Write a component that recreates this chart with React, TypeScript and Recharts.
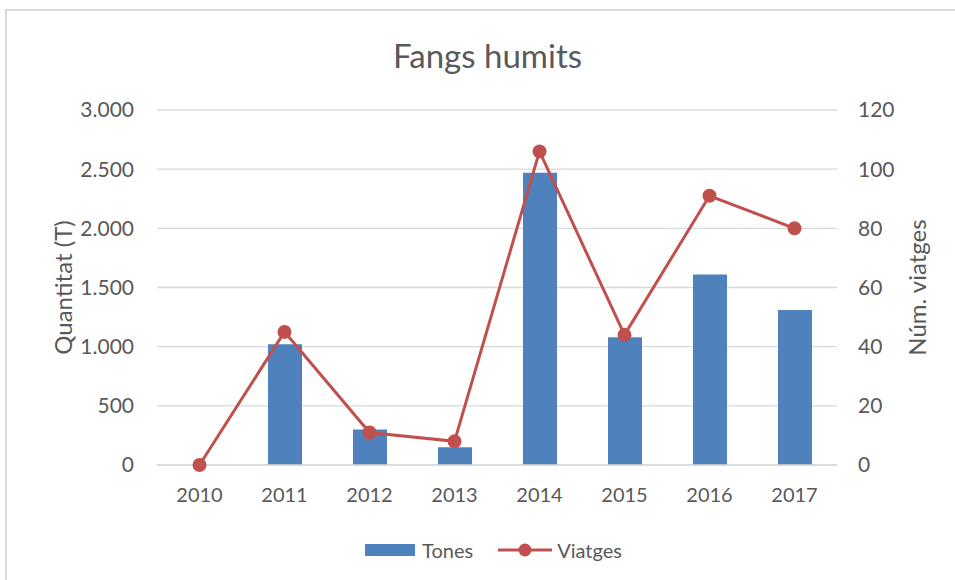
import React from 'react';
import {
  ComposedChart,
  Bar,
  Line,
  XAxis,
  YAxis,
  CartesianGrid,
  Legend,
} from 'recharts';

const years = ['2010', '2011', '2012', '2013', '2014', '2015', '2016', '2017'];
const tones = [0, 1020, 300, 150, 2470, 1080, 1610, 1310];
const viatges = [0, 45, 11, 8, 106, 44, 91, 80];
const leftTicks = [0, 500, 1000, 1500, 2000, 2500, 3000];
const rightTicks = [0, 20, 40, 60, 80, 100, 120];

const chartTitle = 'Fangs humits';
const leftTitle = 'Quantitat (T)';
const rightTitle = 'Núm. viatges';

const data = years.map((y, i) => ({ year: y, Tones: tones[i], Viatges: viatges[i] }));

const BLUE = '#4F81BD';
const RED = '#C0504D';
const TEXT = '#595959';
const GRID = '#D9D9D9';
const FONT = 'Lato, "Open Sans", sans-serif';

const fmt = (v: number) => String(v).replace(/\B(?=(\d{3})+(?!\d))/g, '.');

const LeftTitle = (props: any) => {
  const vb = props.viewBox || {};
  const cx = vb.x + 5;
  const cy = vb.y + vb.height / 2;
  return (
    <text
      x={cx}
      y={cy}
      transform={`rotate(-90 ${cx} ${cy})`}
      textAnchor="middle"
      dominantBaseline="central"
      fill={TEXT}
      fontSize={24}
      fontFamily={FONT}
    >
      {leftTitle}
    </text>
  );
};

const RightTitle = (props: any) => {
  const vb = props.viewBox || {};
  const cx = vb.x + vb.width - 21;
  const cy = vb.y + vb.height / 2;
  return (
    <text
      x={cx}
      y={cy}
      transform={`rotate(-90 ${cx} ${cy})`}
      textAnchor="middle"
      dominantBaseline="central"
      fill={TEXT}
      fontSize={24}
      fontFamily={FONT}
    >
      {rightTitle}
    </text>
  );
};

const LegendContent = () => (
  <div
    style={{
      display: 'flex',
      justifyContent: 'center',
      alignItems: 'center',
      width: 955,
      height: 25,
      paddingLeft: 32,
      boxSizing: 'border-box',
      fontFamily: FONT,
      fontSize: 20,
      color: TEXT,
    }}
  >
    <svg width={50} height={14} style={{ marginRight: 7 }}>
      <rect x={0} y={1} width={50} height={12} fill={BLUE} />
    </svg>
    <span style={{ marginRight: 25 }}>Tones</span>
    <svg width={54} height={14} style={{ marginRight: 5 }}>
      <line x1={0} y1={7} x2={54} y2={7} stroke={RED} strokeWidth={3} />
      <circle cx={27} cy={7} r={6.5} fill={RED} />
    </svg>
    <span>Viatges</span>
  </div>
);

export default function App() {
  return (
    <div style={{ position: 'absolute', left: 0, top: 0, width: 955, height: 580, background: '#fff' }}>
      <svg
        width={955}
        height={580}
        style={{ position: 'absolute', left: 0, top: 0 }}
      >
        <rect x={6} y={10} width={1000} height={1000} fill="#fff" stroke={GRID} strokeWidth={2} />
        <text
          x={487.5}
          y={68}
          textAnchor="middle"
          fill={TEXT}
          fontSize={33}
          fontFamily={FONT}
        >
          {chartTitle}
        </text>
      </svg>
      <div style={{ position: 'absolute', left: 0, top: 0 }}>
        <ComposedChart
          width={955}
          height={580}
          data={data}
          margin={{ top: 110, right: 18, bottom: 40, left: 57 }}
          style={{ fontFamily: FONT }}
        >
          <CartesianGrid
            yAxisId="left"
            vertical={false}
            stroke={GRID}
            strokeWidth={1.3}
          />
          <XAxis
            dataKey="year"
            axisLine={{ stroke: GRID, strokeWidth: 1.3 }}
            tickLine={false}
            tickSize={0}
            tickMargin={23}
            height={50}
            tick={{ fill: TEXT, fontSize: 20, fontFamily: FONT }}
            interval={0}
          />
          <YAxis
            yAxisId="left"
            orientation="left"
            width={100}
            domain={[0, 3000]}
            ticks={leftTicks}
            tickFormatter={fmt}
            axisLine={false}
            tickLine={false}
            tickSize={0}
            tickMargin={23}
            tick={{ fill: TEXT, fontSize: 21, fontFamily: FONT }}
            label={<LeftTitle />}
          />
          <YAxis
            yAxisId="right"
            orientation="right"
            width={100}
            domain={[0, 120]}
            ticks={rightTicks}
            axisLine={false}
            tickLine={false}
            tickSize={0}
            tickMargin={21}
            tick={{ fill: TEXT, fontSize: 21, fontFamily: FONT, textAnchor: 'start' }}
            label={<RightTitle />}
          />
          <Bar
            yAxisId="left"
            dataKey="Tones"
            fill={BLUE}
            barSize={34}
            isAnimationActive={false}
          />
          <Line
            yAxisId="right"
            dataKey="Viatges"
            stroke={RED}
            strokeWidth={3}
            dot={{ r: 7, fill: RED, stroke: RED, strokeWidth: 0 }}
            activeDot={false}
            isAnimationActive={false}
          />
          <Legend
            content={<LegendContent />}
            wrapperStyle={{ position: 'absolute', left: 0, top: 537, width: 955, height: 25 }}
          />
        </ComposedChart>
      </div>
    </div>
  );
}
